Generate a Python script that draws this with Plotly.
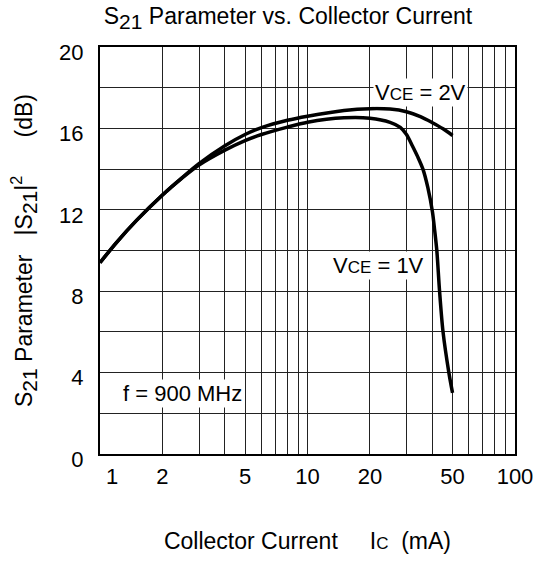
import plotly.graph_objects as go

# Data
ic_2v = [1, 1.2, 1.5, 2, 2.5, 3, 4, 5, 6, 8, 10, 15, 20, 25, 30, 35, 40, 45, 50]
s21_2v = [9.4, 10.39, 11.48, 12.73, 13.6, 14.27, 15.15, 15.7, 16.04, 16.4, 16.6, 16.88, 16.97, 16.95, 16.82, 16.58, 16.28, 15.98, 15.65]

ic_1v = [1, 1.2, 1.5, 2, 2.5, 3, 4, 5, 6, 8, 10, 15, 20, 25, 28, 30, 32, 34, 36, 38, 40, 41, 42, 43.3, 45, 48, 50]
s21_1v = [9.4, 10.39, 11.48, 12.73, 13.58, 14.2, 14.93, 15.4, 15.7, 16.06, 16.3, 16.52, 16.5, 16.3, 16.05, 15.7, 15.15, 14.6, 14.0, 13.1, 11.9, 11.0, 10.0, 8.0, 6.0, 4.0, 3.0]

x_grid = [1, 2, 3, 4, 5, 6, 7, 8, 9, 10, 20, 30, 40, 50, 60, 70, 80, 90, 100]
x_labels = ["\u00a0\u00a0\u00a0\u00a01", "2", "", "", "5", "", "", "", "", "10", "20", "", "", "50", "", "", "", "", "100"]
y_grid = [0, 2, 4, 6, 8, 10, 12, 14, 16, 18, 20]
y_labels = ["0", "", "4", "", "8", "", "12", "", "16", "", "20"]

FONT = "Liberation Sans, Arial, sans-serif"
FS = 22
FT = 23

fig = go.Figure()
fig.add_trace(go.Scatter(x=ic_2v, y=s21_2v, mode="lines",
                         line=dict(color="black", width=3.5, shape="spline", smoothing=1.0),
                         hoverinfo="skip"))
fig.add_trace(go.Scatter(x=ic_1v, y=s21_1v, mode="lines",
                         line=dict(color="black", width=3.5, shape="spline", smoothing=0.8),
                         hoverinfo="skip"))

ann_font = dict(family=FONT, size=FS, color="black")
small = '<span style="font-size:17px">%s</span>'
sub21 = '<sub><span style="font-size:21px">21</span></sub>'
fig.add_annotation(x=1.545, y=17.77, xref="x", yref="y",
                   text="V" + small % "CE" + " = 2V",
                   showarrow=False, bgcolor="white", font=ann_font, borderpad=1)
fig.add_annotation(x=1.340, y=9.26, xref="x", yref="y",
                   text="V" + small % "CE" + " = 1V",
                   showarrow=False, bgcolor="white", font=ann_font, borderpad=1)
fig.add_annotation(x=0.3986, y=2.97, xref="x", yref="y",
                   text="f = 900 MHz",
                   showarrow=False, bgcolor="white", font=ann_font, borderpad=1)

fig.update_layout(
    width=548, height=562,
    margin=dict(l=100, r=33, t=47, b=99),
    paper_bgcolor="white", plot_bgcolor="white",
    showlegend=False,
    font=dict(family=FONT, size=FS, color="black"),
    title=dict(text="S" + sub21 + " Parameter vs. Collector Current",
               x=288 / 548, xref="container", xanchor="center",
               y=1 - 16 / 562, yref="container", yanchor="middle",
               font=dict(family=FONT, size=FT, color="black")),
    xaxis=dict(type="log", range=[0, 2], tickmode="array",
               tickvals=x_grid, ticktext=x_labels,
               showgrid=True, gridcolor="#222222", gridwidth=1,
               showline=True, linecolor="black", linewidth=2, mirror=True,
               ticks="", ticklabelstandoff=2,
               tickfont=dict(family=FONT, size=FS, color="black"),
               title=dict(text="Collector Current     I" + small % "C" + "  (mA)",
                          font=dict(family=FONT, size=FT, color="black"), standoff=44),
               zeroline=False, fixedrange=True),
    yaxis=dict(range=[0, 20], tickmode="array",
               tickvals=y_grid, ticktext=y_labels,
               showgrid=True, gridcolor="#222222", gridwidth=1,
               showline=True, linecolor="black", linewidth=2, mirror=True,
               ticks="", ticklabelstandoff=10, ticklabelshift=5,
               tickfont=dict(family=FONT, size=FS, color="black"),
               title=dict(text="S" + sub21 + " Parameter   |S" + sub21 + "|<sup>2</sup>      (dB)",
                          font=dict(family=FONT, size=FT, color="black"), standoff=20),
               zeroline=False, fixedrange=True),
)

fig.write_html("out.html", config={"displayModeBar": False},
               post_script="document.body.style.margin='0';document.body.style.padding='0';")
